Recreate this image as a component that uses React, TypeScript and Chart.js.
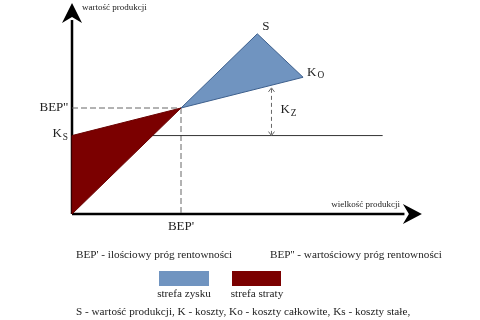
import { useEffect, useRef } from "react";
import { Chart, registerables } from "chart.js";

Chart.register(...registerables);

// Break-even diagram values (quantity, value)
const breakEven = [100, 100];
const revenueEnd = [170, 170];
const totalCostEnd = [212, 129];
const fixedCostStart = [0, 74];
const fixedCostLineEnd = [285, 74];
const marginOfSafety = [183, 74, 119]; // quantity, from value, to value
const xAxisLine = [0, 305, 321]; // start, line end, arrow tip
const yAxisLine = [0, 183, 199];
const xRange = [-66.06, 374.31];
const yRange = [-100, 201.9];

const profitColor = "#7094c0";
const lossColor = "#7b0000";
const serif = "'Liberation Serif', 'DejaVu Serif', serif";

const pt = (a: number[]) => ({ x: a[0], y: a[1] });

function drawSub(ctx: CanvasRenderingContext2D, main: string, sub: string, x: number, y: number, size: number, align: "left" | "right" = "left") {
  ctx.font = `${size}px ${serif}`;
  const w1 = ctx.measureText(main).width;
  ctx.font = `${size * 0.72}px ${serif}`;
  const w2 = ctx.measureText(sub).width;
  const x0 = align === "right" ? x - w1 - w2 - 1 : x;
  ctx.textAlign = "left";
  ctx.textBaseline = "middle";
  ctx.font = `${size}px ${serif}`;
  ctx.fillText(main, x0, y);
  ctx.font = `${size * 0.72}px ${serif}`;
  ctx.fillText(sub, x0 + w1 + 1, y + size * 0.28);
}

const overlay = {
  id: "overlay",
  afterDatasetsDraw(chart: any) {
    const ctx: CanvasRenderingContext2D = chart.ctx;
    const xs = chart.scales.x;
    const ys = chart.scales.y;
    const px = (v: number) => xs.getPixelForValue(v);
    const py = (v: number) => ys.getPixelForValue(v);
    ctx.save();

    // axis arrowheads
    ctx.fillStyle = "#000";
    const ox = px(0), oy = py(0);
    const ty = py(yAxisLine[2]);
    ctx.beginPath();
    ctx.moveTo(ox, ty);
    ctx.lineTo(ox - 10, ty + 20);
    ctx.lineTo(ox, ty + 14);
    ctx.lineTo(ox + 10, ty + 20);
    ctx.closePath();
    ctx.fill();
    const tx = px(xAxisLine[2]);
    ctx.beginPath();
    ctx.moveTo(tx, oy);
    ctx.lineTo(tx - 19, oy - 10);
    ctx.lineTo(tx - 13, oy);
    ctx.lineTo(tx - 19, oy + 10);
    ctx.closePath();
    ctx.fill();

    // margin of safety arrow (Kz)
    const mx = px(marginOfSafety[0]);
    const m1 = py(marginOfSafety[1]);
    const m2 = py(marginOfSafety[2]);
    ctx.strokeStyle = "#666";
    ctx.lineWidth = 1;
    ctx.setLineDash([4, 3]);
    ctx.beginPath();
    ctx.moveTo(mx, m2 + 1);
    ctx.lineTo(mx, m1 - 1);
    ctx.stroke();
    ctx.setLineDash([]);
    ctx.beginPath();
    ctx.moveTo(mx - 3, m2 + 4);
    ctx.lineTo(mx, m2);
    ctx.lineTo(mx + 3, m2 + 4);
    ctx.moveTo(mx - 3, m1 - 4);
    ctx.lineTo(mx, m1);
    ctx.lineTo(mx + 3, m1 - 4);
    ctx.stroke();

    // labels
    ctx.fillStyle = "#222";
    ctx.textBaseline = "middle";
    ctx.font = `9px ${serif}`;
    ctx.textAlign = "left";
    ctx.fillText("wartość produkcji", ox + 10, ty + 5);
    ctx.textAlign = "right";
    ctx.fillText("wielkość produkcji", tx - 22, oy - 9);

    ctx.font = `13px ${serif}`;
    ctx.textAlign = "right";
    ctx.fillText("BEP''", ox - 4, py(breakEven[1]));
    ctx.textAlign = "center";
    ctx.fillText("BEP'", px(breakEven[0]), oy + 13);
    ctx.textAlign = "left";
    ctx.fillText("S", px(revenueEnd[0]) + 5, py(revenueEnd[1]) - 7);

    drawSub(ctx, "K", "S", ox - 4, py(fixedCostStart[1]) - 2, 13, "right");
    drawSub(ctx, "K", "O", px(totalCostEnd[0]) + 4, py(totalCostEnd[1]) - 5, 13);
    drawSub(ctx, "K", "Z", mx + 9, (m1 + m2) / 2 - 2, 13);

    // captions
    ctx.font = `11.2px ${serif}`;
    ctx.textAlign = "left";
    ctx.fillText("BEP' - ilościowy próg rentowności", 76, 255);
    ctx.fillText("BEP'' - wartościowy próg rentowności", 270, 255);
    ctx.fillText("S - wartość produkcji, K - koszty, Ko - koszty całkowite, Ks - koszty stałe,", 76, 312);

    ctx.fillStyle = profitColor;
    ctx.fillRect(159, 271, 50, 15);
    ctx.fillStyle = lossColor;
    ctx.fillRect(232, 271, 49, 15);
    ctx.fillStyle = "#222";
    ctx.textAlign = "center";
    ctx.fillText("strefa zysku", 184, 294);
    ctx.fillText("strefa straty", 257, 294);

    ctx.restore();
  },
};

export default function App() {
  const ref = useRef<HTMLCanvasElement>(null);
  useEffect(() => {
    if (!ref.current) return;
    const line = (data: any[], color: string, width: number, dash: number[] = []) => ({
      data,
      showLine: true,
      borderColor: color,
      borderWidth: width,
      borderDash: dash,
      pointRadius: 0,
      fill: false,
      tension: 0,
    });
    const chart = new Chart(ref.current, {
      type: "scatter",
      data: {
        datasets: [
          {
            data: [pt(breakEven), pt(revenueEnd), pt(totalCostEnd), pt(breakEven)],
            showLine: true,
            fill: "shape",
            backgroundColor: profitColor,
            borderColor: "#3d5f8c",
            borderWidth: 1,
            pointRadius: 0,
            tension: 0,
          } as any,
          {
            data: [{ x: 0, y: 0 }, pt(fixedCostStart), pt(breakEven), { x: 0, y: 0 }],
            showLine: true,
            fill: "shape",
            backgroundColor: lossColor,
            borderColor: "#6a0000",
            borderWidth: 1,
            pointRadius: 0,
            tension: 0,
          } as any,
          line([pt(fixedCostStart), pt(fixedCostLineEnd)], "#333", 1),
          line([{ x: 0, y: breakEven[1] }, pt(breakEven)], "#666", 1, [6, 3]),
          line([pt(breakEven), { x: breakEven[0], y: 0 }], "#666", 1, [6, 3]),
          line([{ x: 0, y: yAxisLine[0] }, { x: 0, y: yAxisLine[1] }], "#000", 2.5),
          line([{ x: xAxisLine[0], y: 0 }, { x: xAxisLine[1], y: 0 }], "#000", 2.5),
        ],
      },
      options: {
        animation: false,
        responsive: false,
        maintainAspectRatio: false,
        layout: { padding: 0 },
        plugins: { legend: { display: false }, tooltip: { enabled: false } },
        scales: {
          x: { type: "linear", display: false, min: xRange[0], max: xRange[1] },
          y: { type: "linear", display: false, min: yRange[0], max: yRange[1] },
        },
      },
      plugins: [overlay],
    });
    return () => chart.destroy();
  }, []);
  return (
    <div style={{ position: "absolute", left: 0, top: 0, width: 480, height: 320, background: "#fff" }}>
      <canvas ref={ref} width={480} height={320} />
    </div>
  );
}
